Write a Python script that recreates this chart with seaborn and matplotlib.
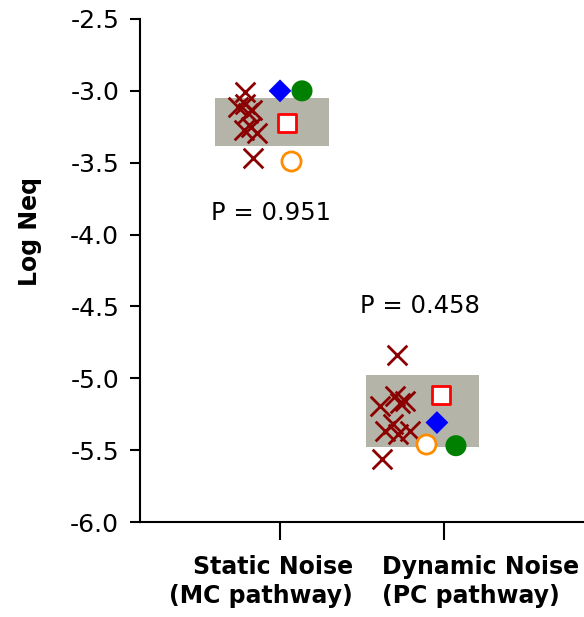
"""
plot.py
Log Neq for static vs dynamic noise, with individual subjects (x) and group markers.
"""

import pandas as pd
import matplotlib.pyplot as plt
import matplotlib.transforms as mtransforms
import seaborn as sns

sns.set_theme(style="white")
plt.rcParams["font.family"] = ["DejaVu Sans"]
plt.rcParams["text.color"] = "black"
plt.rcParams["axes.labelcolor"] = "black"

# ── Data ─────────────────────────────────────────────────────────────────────
group_labels = ["Static Noise\n(MC pathway)", "Dynamic Noise\n(PC pathway)"]

# individual observers (x-jitter relative to the group position)
static_cross_dx = [-0.213, -0.256, -0.213, -0.171, -0.195, -0.220, -0.177, -0.140, -0.165]
static_cross_y = [-3.009, -3.113, -3.092, -3.134, -3.155, -3.273, -3.253, -3.294, -3.469]
dynamic_cross_dx = [-0.287, -0.390, -0.299, -0.268, -0.238, -0.360, -0.311, -0.280, -0.207, -0.378]
dynamic_cross_y = [-4.841, -5.190, -5.120, -5.169, -5.155, -5.364, -5.315, -5.385, -5.364, -5.559]

# other markers, one value per group
square_dx = [0.043, -0.018]
square_y = [-3.225, -5.113]
diamond_dx = [0.0, -0.043]
diamond_y = [-3.00, -5.308]
open_circle_dx = [0.067, -0.110]
open_circle_y = [-3.49, -5.455]
dot_dx = [0.134, 0.073]
dot_y = [-3.00, -5.469]

# shaded range per group
box_left = [-0.396, -0.476]
box_right = [0.300, 0.213]
box_low = [-3.385, -5.476]
box_high = [-3.05, -4.98]

# p-value annotations
p_text = ["P = 0.951", "P = 0.458"]
p_dx = [-0.055, -0.146]
p_y = [-3.85, -4.50]

# ── Build tables ─────────────────────────────────────────────────────────────
crosses = pd.DataFrame({
    "x": [0 + d for d in static_cross_dx] + [1 + d for d in dynamic_cross_dx],
    "y": static_cross_y + dynamic_cross_y,
})
squares = pd.DataFrame({"x": [i + d for i, d in enumerate(square_dx)], "y": square_y})
diamonds = pd.DataFrame({"x": [i + d for i, d in enumerate(diamond_dx)], "y": diamond_y})
open_circles = pd.DataFrame({"x": [i + d for i, d in enumerate(open_circle_dx)], "y": open_circle_y})
dots = pd.DataFrame({"x": [i + d for i, d in enumerate(dot_dx)], "y": dot_y})

# ── Figure ───────────────────────────────────────────────────────────────────
fig = plt.figure(figsize=(5.84, 6.17), dpi=100)
ax = fig.add_axes([140 / 584, 95 / 617, 444 / 584, 503 / 617])

for i in range(len(group_labels)):
    ax.fill_between([i + box_left[i], i + box_right[i]], box_low[i], box_high[i],
                    color="#b4b4a9", linewidth=0, zorder=1)

sns.scatterplot(data=crosses, x="x", y="y", marker="x", s=200, color="#8b0000",
                linewidth=2.0, ax=ax, zorder=3)
sns.scatterplot(data=squares, x="x", y="y", marker="s", s=150, facecolor="white",
                edgecolor="#ff0000", linewidth=2.0, ax=ax, zorder=3)
sns.scatterplot(data=diamonds, x="x", y="y", marker="D", s=135, color="#0000ff",
                edgecolor="none", linewidth=0, ax=ax, zorder=3)
sns.scatterplot(data=open_circles, x="x", y="y", marker="o", s=190, facecolor="white",
                edgecolor="#ff8c00", linewidth=2.0, ax=ax, zorder=3)
sns.scatterplot(data=dots, x="x", y="y", marker="o", s=230, color="#008000",
                edgecolor="none", linewidth=0, ax=ax, zorder=3)

for i in range(len(p_text)):
    ax.text(i + p_dx[i], p_y[i], p_text[i], ha="center", va="center", fontsize=17.5)

# ── Axes styling ─────────────────────────────────────────────────────────────
ax.set_xlim(-0.854, 1.854)
ax.set_ylim(-6.0, -2.5)
ax.set_yticks([-6.0, -5.5, -5.0, -4.5, -4.0, -3.5, -3.0, -2.5])
ax.set_yticklabels([f"{v:.1f}" for v in ax.get_yticks()], fontsize=18)
ax.set_xticks([0, 1])
ax.set_xticklabels(group_labels, fontsize=17, fontweight="bold", linespacing=1.25)
ax.set_xlabel("")
ax.set_ylabel("Log Neq", fontsize=17, fontweight="bold")
ax.yaxis.set_label_coords(-0.221, 0.578)

for side in ["top", "right"]:
    ax.spines[side].set_visible(False)
for side in ["left", "bottom"]:
    ax.spines[side].set_color("black")
    ax.spines[side].set_linewidth(1.5)

ax.tick_params(axis="y", direction="out", length=7, width=1.5, pad=8, colors="black", left=True)
ax.tick_params(axis="x", direction="out", length=13, width=1.5, pad=11, colors="black", bottom=True)

# x tick labels: first one right-aligned, second left-aligned, shifted off the tick
shifts = [73, -62]
aligns = ["right", "left"]
for lab, dx, ha in zip(ax.get_xticklabels(), shifts, aligns):
    lab.set_ha(ha)
    lab.set_multialignment(ha)
    lab.set_transform(lab.get_transform() + mtransforms.ScaledTranslation(dx / 100, 0, fig.dpi_scale_trans))

ax.set_facecolor("white")
fig.savefig("out.png", dpi=100, facecolor="white")
plt.close()
print("Saved out.png")
